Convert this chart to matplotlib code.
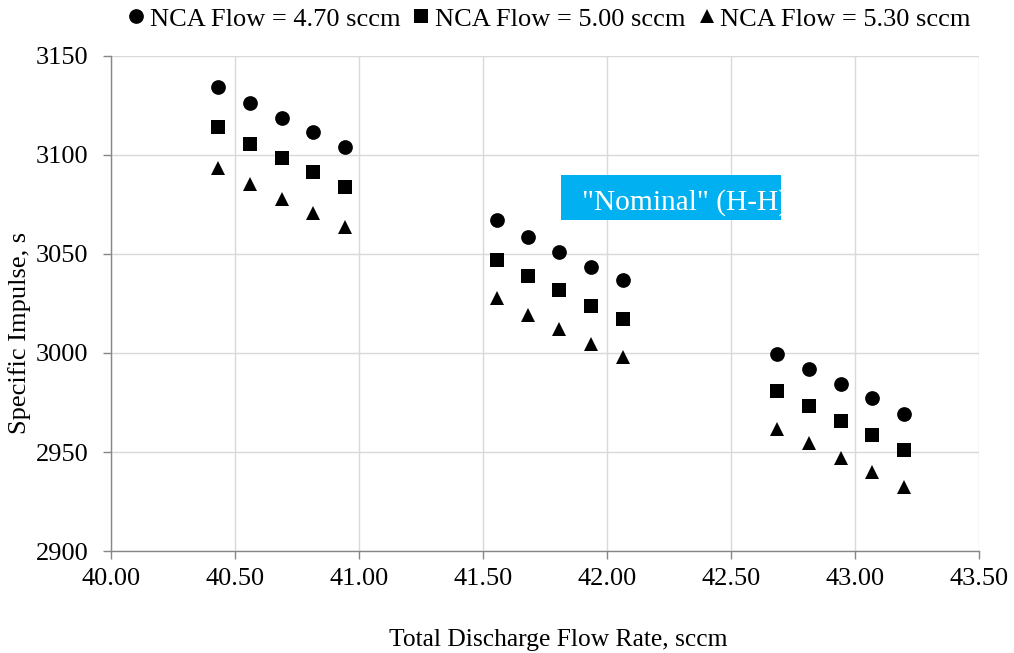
import matplotlib
matplotlib.use("Agg")
import matplotlib.pyplot as plt
from matplotlib.patches import Rectangle

plt.rcParams['font.family'] = ['Liberation Serif', 'DejaVu Serif']

# Total discharge flow rate (sccm) for each operating point
flow_total = [40.433, 40.560, 40.689, 40.815, 40.943,
              41.556, 41.682, 41.809, 41.937, 42.063,
              42.685, 42.813, 42.942, 43.068, 43.196]

# Specific impulse (s) for each NCA flow setting
isp_470 = [3134.3, 3126.1, 3118.7, 3111.4, 3103.9,
           3066.9, 3058.3, 3051.1, 3043.2, 3036.7,
           2999.5, 2991.8, 2984.2, 2977.2, 2969.4]
isp_500 = [3113.8, 3105.5, 3098.2, 3091.1, 3083.7,
           3047.0, 3038.8, 3031.8, 3023.7, 3017.3,
           2980.7, 2973.1, 2965.6, 2958.5, 2951.1]
isp_530 = [3093.1, 3085.0, 3077.8, 3070.7, 3063.4,
           3027.6, 3019.3, 3012.2, 3004.6, 2998.1,
           2961.9, 2954.5, 2946.9, 2939.8, 2932.6]

series_labels = ["NCA Flow = 4.70 sccm", "NCA Flow = 5.00 sccm", "NCA Flow = 5.30 sccm"]
x_ticks = [40.00, 40.50, 41.00, 41.50, 42.00, 42.50, 43.00, 43.50]
y_ticks = [2900, 2950, 3000, 3050, 3100, 3150]

W, H = 1014, 653
fig = plt.figure(figsize=(W / 100, H / 100), dpi=100)
ax = fig.add_axes([110.7 / W, 1 - 551.3 / H, (979 - 110.7) / W, (551.3 - 55.5) / H])

fs = 19
ms = 10.6
for ys, mk, lab in zip([isp_470, isp_500, isp_530], ['o', 's', '^'], series_labels):
    ax.plot(flow_total, ys, linestyle='none', marker=mk, markersize=ms,
            markerfacecolor='black', markeredgewidth=0, color='black', label=lab,
            zorder=3)

ax.set_xlim(40.0, 43.5)
ax.set_ylim(2900, 3150)
ax.set_xticks(x_ticks)
ax.set_xticklabels([f"{v:.2f}" for v in x_ticks])
ax.set_yticks(y_ticks)
ax.set_yticklabels([str(v) for v in y_ticks])

grid_c = '#d9d9d9'
axis_c = '#868686'
ax.grid(True, color=grid_c, linewidth=1.0, zorder=0)
ax.set_axisbelow(True)
for side in ['top', 'right']:
    ax.spines[side].set_visible(False)
for side in ['left', 'bottom']:
    ax.spines[side].set_color(axis_c)
    ax.spines[side].set_linewidth(1.0)
ax.tick_params(axis='both', direction='out', length=5.5, width=1.0, color=axis_c,
               labelsize=fs, labelcolor='black')
ax.tick_params(axis='x', pad=6.5)
ax.tick_params(axis='y', pad=10.5)

fig.text(558 / W, 1 - 640 / H, "Total Discharge Flow Rate, sccm", fontsize=18.4,
         ha='center', va='center')
fig.text(20 / W, 1 - 333 / H, "Specific Impulse, s", fontsize=fs,
         ha='center', va='center', rotation=90)

leg = fig.legend(loc='center left', bbox_to_anchor=(129 / W, 1 - 19 / H), ncol=3,
                 frameon=False, fontsize=fs, handlelength=0.55, handletextpad=0.23,
                 columnspacing=0.53, markerscale=1.0, borderaxespad=0, borderpad=0)

# Highlight label for the nominal operating condition
box = Rectangle((561 / W, 1 - 220 / H), (781 - 561) / W, (220 - 175) / H,
                transform=fig.transFigure, facecolor='#00b0f0', edgecolor='none',
                zorder=5)
fig.patches.append(box)
t = fig.text(582 / W, 1 - 210 / H, '"Nominal" (H-H)', fontsize=21.2, color='white',
             ha='left', va='baseline', zorder=6)
t.set_clip_path(box)

fig.savefig("out.png", dpi=100)
